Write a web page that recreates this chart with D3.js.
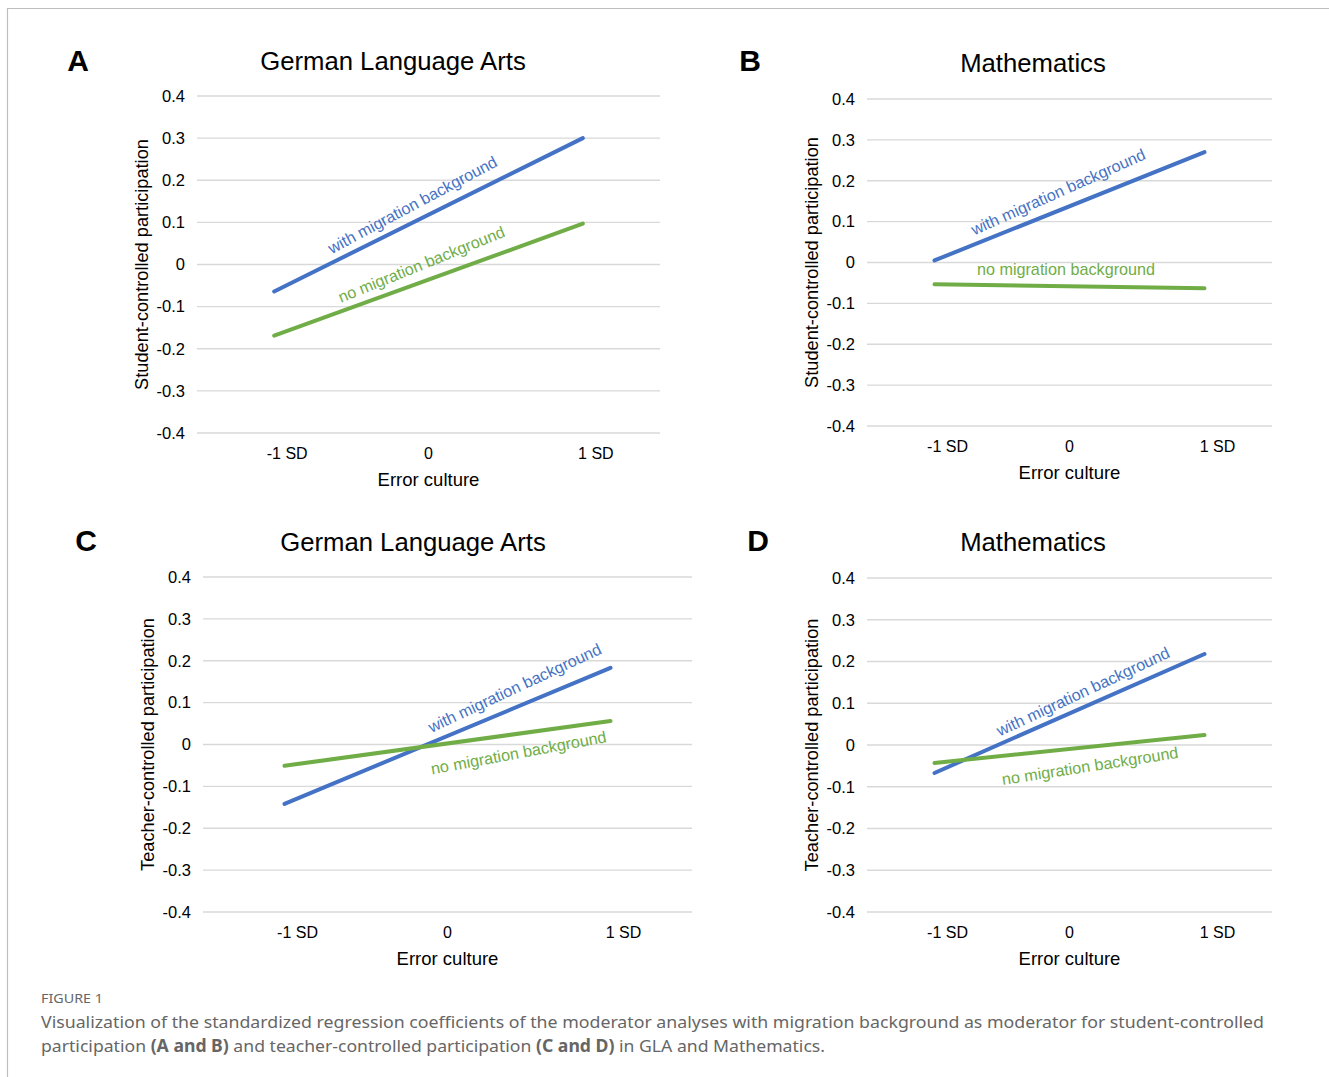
<!DOCTYPE html>
<html>
<head>
<meta charset="UTF-8">
<script src="https://cdnjs.cloudflare.com/ajax/libs/d3/7.8.5/d3.min.js"></script>
<style>
  body { margin: 0; background: #fff; }
  svg text { font-family: "Liberation Sans", Arial, sans-serif; fill: #000; }
  .caption text { font-family: "Noto Sans", sans-serif; fill: #666; }
</style>
</head>
<body>
<div id="chart"></div>
<script>
// categories and ticks
var categories = ["-1 SD", "0", "1 SD"];
var yTicks = [0.4, 0.3, 0.2, 0.1, 0, -0.1, -0.2, -0.3, -0.4];
var yTickLabels = ["0.4", "0.3", "0.2", "0.1", "0", "-0.1", "-0.2", "-0.3", "-0.4"];
var seriesNames = ["with migration background", "no migration background"];

// values at -1 SD and 1 SD
var aWith = [-0.064, 0.300];
var aNo = [-0.169, 0.097];
var bWith = [0.005, 0.270];
var bNo = [-0.053, -0.063];
var cWith = [-0.142, 0.183];
var cNo = [-0.051, 0.056];
var dWith = [-0.067, 0.218];
var dNo = [-0.043, 0.024];

var blue = "#4472C4", green = "#70AD47";

var width = 1329, height = 1077;

var svg = d3.select("#chart").append("svg")
  .attr("width", width)
  .attr("height", height);

// frame
svg.append("path")
  .attr("d", "M7.5,1077V8.5H1329")
  .attr("fill", "none")
  .attr("stroke", "#bdbdbd")
  .attr("stroke-width", 1.2);

// layout for each panel
var panels = [
  { letter: "A", title: "German Language Arts", ytitle: "Student-controlled participation",
    x0: 197, x1: 660, y0: 96, y1: 433, tx: 393, ty: 61, lx: 78, ly: 60,
    series: [aWith, aNo],
    labels: [{ t: 0.448, dy: -18, rot: -28 }, { t: 0.477, dy: -18, rot: -22 }] },
  { letter: "B", title: "Mathematics", ytitle: "Student-controlled participation",
    x0: 867, x1: 1272, y0: 99, y1: 426, tx: 1033, ty: 63, lx: 750, ly: 60,
    series: [bWith, bNo],
    labels: [{ t: 0.458, dy: -19, rot: -24 }, { t: 0.487, dy: -17, rot: 0 }] },
  { letter: "C", title: "German Language Arts", ytitle: "Teacher-controlled participation",
    x0: 203, x1: 692, y0: 577, y1: 912, tx: 413, ty: 542, lx: 86, ly: 540,
    series: [cWith, cNo],
    labels: [{ t: 0.706, dy: -20, rot: -25 }, { t: 0.718, dy: 19, rot: -10.5 }] },
  { letter: "D", title: "Mathematics", ytitle: "Teacher-controlled participation",
    x0: 867, x1: 1272, y0: 578, y1: 912, tx: 1033, ty: 542, lx: 758, ly: 540,
    series: [dWith, dNo],
    labels: [{ t: 0.55, dy: -16, rot: -25 }, { t: 0.576, dy: 19, rot: -8.8 }] }
];

panels.forEach(function(p) {
  var g = svg.append("g");

  var x = d3.scaleBand().domain(categories).range([p.x0, p.x1]);
  var y = d3.scaleLinear().domain([-0.4, 0.4]).range([p.y1, p.y0]);
  var cx = function(c) { return x(c) + x.bandwidth() / 2; };

  // gridlines
  g.selectAll(".grid").data(yTicks).enter().append("line")
    .attr("x1", p.x0).attr("x2", p.x1)
    .attr("y1", function(d) { return y(d); })
    .attr("y2", function(d) { return y(d); })
    .attr("stroke", "#d9d9d9")
    .attr("stroke-width", 1.3);

  // y tick labels
  g.selectAll(".ytick").data(yTicks).enter().append("text")
    .attr("x", p.x0 - 12)
    .attr("y", function(d) { return y(d); })
    .attr("dy", "0.35em")
    .attr("text-anchor", "end")
    .style("font-size", "16.5px")
    .text(function(d, i) { return yTickLabels[i]; });

  // x tick labels
  g.selectAll(".xtick").data(categories).enter().append("text")
    .attr("x", function(d) { return cx(d) + (d == "0" ? 0 : 13); })
    .attr("y", p.y1 + 20)
    .attr("dy", "0.35em")
    .attr("text-anchor", "middle")
    .style("font-size", "16px")
    .text(function(d) { return d; });

  g.append("text")
    .attr("x", cx("0"))
    .attr("y", p.y1 + 47)
    .attr("dy", "0.35em")
    .attr("text-anchor", "middle")
    .style("font-size", "18.5px")
    .text("Error culture");

  g.append("text")
    .attr("transform", "translate(" + (p.x0 - 55) + "," + ((p.y0 + p.y1) / 2) + ") rotate(-90)")
    .attr("dy", "0.35em")
    .attr("text-anchor", "middle")
    .style("font-size", "18.2px")
    .text(p.ytitle);

  g.append("text")
    .attr("x", p.tx).attr("y", p.ty)
    .attr("dy", "0.35em")
    .attr("text-anchor", "middle")
    .style("font-size", "25.7px")
    .text(p.title);

  g.append("text")
    .attr("x", p.lx).attr("y", p.ly)
    .attr("dy", "0.36em")
    .attr("text-anchor", "middle")
    .style("font-size", "30px")
    .style("font-weight", "bold")
    .text(p.letter);

  var ends = [categories[0], categories[2]];
  var line = d3.line()
    .x(function(d, i) { return cx(ends[i]); })
    .y(function(d) { return y(d); });

  p.series.forEach(function(vals, si) {
    var col = si == 0 ? blue : green;
    g.append("path")
      .attr("d", line(vals))
      .attr("fill", "none")
      .attr("stroke", col)
      .attr("stroke-width", 4)
      .attr("stroke-linecap", "round");

    var lab = p.labels[si];
    var px = cx(ends[0]) + (cx(ends[1]) - cx(ends[0])) * lab.t;
    var py = y(vals[0]) + (y(vals[1]) - y(vals[0])) * lab.t + lab.dy;
    g.append("text")
      .attr("transform", "translate(" + px + "," + py + ") rotate(" + lab.rot + ")")
      .attr("dy", "0.35em")
      .attr("text-anchor", "middle")
      .style("font-size", "16.2px")
      .style("fill", col)
      .text(seriesNames[si]);
  });
});

// caption
var cap = svg.append("g").attr("class", "caption");
cap.append("text")
  .attr("x", 41).attr("y", 1003)
  .style("font-size", "12px")
  .attr("textLength", 62)
  .attr("lengthAdjust", "spacingAndGlyphs")
  .text("FIGURE 1");

cap.append("text")
  .attr("x", 41).attr("y", 1028)
  .style("font-size", "17px")
  .attr("textLength", 1223)
  .attr("lengthAdjust", "spacingAndGlyphs")
  .text("Visualization of the standardized regression coefficients of the moderator analyses with migration background as moderator for student-controlled");

var line2 = cap.append("text")
  .attr("x", 41).attr("y", 1052)
  .style("font-size", "17px")
  .attr("textLength", 784)
  .attr("lengthAdjust", "spacingAndGlyphs");
line2.append("tspan").text("participation ");
line2.append("tspan").style("font-weight", "bold").text("(A and B)");
line2.append("tspan").text(" and teacher-controlled participation ");
line2.append("tspan").style("font-weight", "bold").text("(C and D)");
line2.append("tspan").text(" in GLA and Mathematics.");
</script>
</body>
</html>
